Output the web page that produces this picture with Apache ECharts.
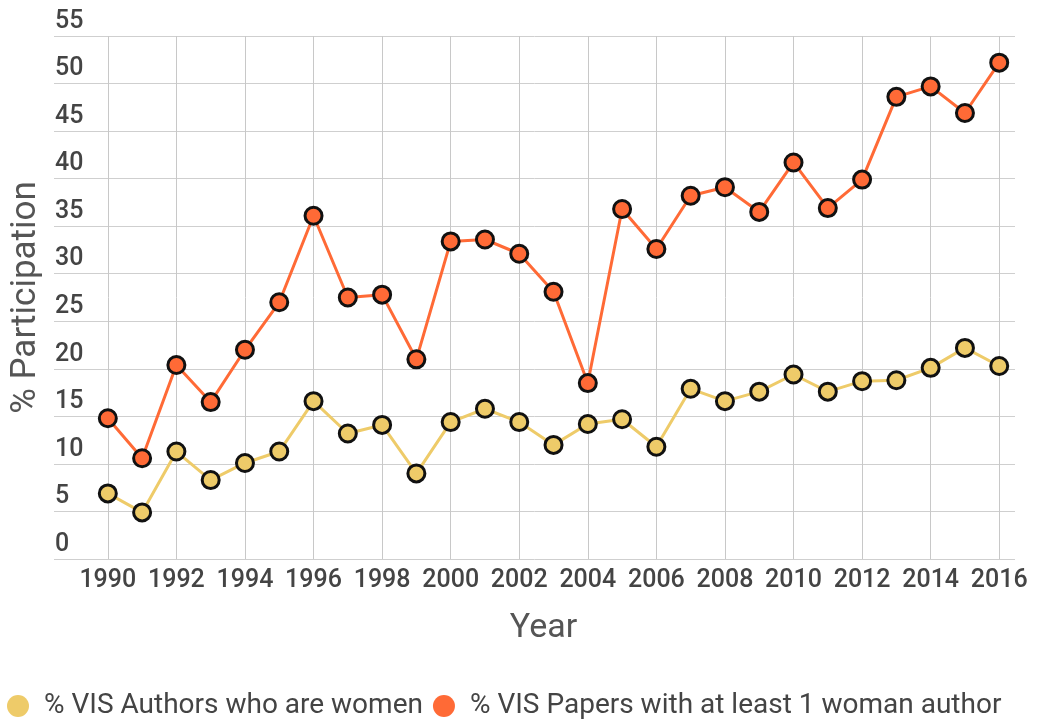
<!DOCTYPE html>
<html>
<head>
<meta charset="utf-8">
<script src="https://cdn.jsdelivr.net/npm/echarts@6/dist/echarts.min.js"></script>
<style>
    html, body { margin: 0; padding: 0; background: #fff; }
    #main { width: 1037px; height: 719px; }
</style>
</head>
<body>
<div id="main"></div>
<script>
// --------------------------------------------------------------------------------------------------------------------
var years = [1990, 1991, 1992, 1993, 1994, 1995, 1996, 1997, 1998, 1999, 2000, 2001, 2002, 2003,
    2004, 2005, 2006, 2007, 2008, 2009, 2010, 2011, 2012, 2013, 2014, 2015, 2016];
var authorsWomen = [6.9, 4.9, 11.3, 8.3, 10.1, 11.3, 16.6, 13.2, 14.1, 9.0, 14.4, 15.8, 14.4, 12.0,
    14.2, 14.7, 11.8, 17.9, 16.6, 17.6, 19.4, 17.6, 18.7, 18.8, 20.1, 22.2, 20.3];
var papersWoman = [14.8, 10.6, 20.4, 16.5, 22.0, 27.0, 36.1, 27.5, 27.8, 21.0, 33.4, 33.6, 32.1, 28.1,
    18.5, 36.8, 32.6, 38.2, 39.1, 36.5, 41.7, 36.9, 39.9, 48.6, 49.7, 46.9, 52.2];
var seriesNames = ['% VIS Authors who are women', '% VIS Papers with at least 1 woman author'];
var seriesColors = ['#EECB69', '#FF6A36'];
// --------------------------------------------------------------------------------------------------------------------
function pairs(values) {
    var result = [];
    for (var i = 0; i < years.length; i++) {
        result.push([years[i], values[i]]);
    }
    return result;
}

function makeSeries(name, color, values) {
    return {
        name: name,
        type: 'line',
        data: pairs(values),
        symbol: 'circle',
        symbolSize: 17,
        lineStyle: { color: color, width: 3 },
        itemStyle: { color: color, borderColor: '#111', borderWidth: 3 },
        emphasis: { disabled: true },
        z: 3
    };
}

var textColor = '#444';
var font = 'Roboto, "Noto Sans", sans-serif';

var option = {
    animation: false,
    grid: { left: 54, right: 22, top: 36, bottom: 160 },
    legend: {
        left: 2,
        top: 687,
        icon: 'circle',
        itemWidth: 38,
        itemHeight: 22,
        itemGap: 10,
        itemStyle: { borderWidth: 0 },
        textStyle: { fontFamily: font, fontSize: 28, color: textColor, padding: [0, 0, 0, 2] },
        data: seriesNames
    },
    xAxis: {
        type: 'value',
        min: 1988.43,
        max: 2016.46,
        splitNumber: 14,
        minInterval: 2,
        maxInterval: 2,
        name: 'Year',
        nameLocation: 'middle',
        nameGap: 52,
        nameTextStyle: { fontFamily: font, fontSize: 34, color: '#555', padding: [0, 0, 0, 18] },
        axisLine: { show: false },
        axisTick: { show: false },
        axisLabel: {
            margin: 9,
            fontFamily: font,
            fontSize: 25,
            fontWeight: 500,
            color: textColor,
            showMinLabel: false,
            showMaxLabel: false,
            formatter: function (v) { return v % 1 === 0 ? String(v) : ''; }
        },
        splitLine: { show: true, showMinLine: false, showMaxLine: false, lineStyle: { color: '#c8c8c8', width: 1 } }
    },
    yAxis: {
        type: 'value',
        min: 0,
        max: 55,
        interval: 5,
        name: '% Participation',
        nameLocation: 'middle',
        nameGap: 9,
        nameTextStyle: { fontFamily: font, fontSize: 35, color: '#555' },
        axisLine: { show: false },
        axisTick: { show: false },
        axisLabel: {
            inside: true,
            margin: 1,
            verticalAlign: 'bottom',
            padding: [0, 0, 2, 0],
            fontFamily: font,
            fontSize: 25,
            fontWeight: 500,
            color: textColor
        },
        splitLine: { show: true, lineStyle: { color: '#cfcfcf', width: 1 } }
    },
    series: [
        makeSeries(seriesNames[0], seriesColors[0], authorsWomen),
        makeSeries(seriesNames[1], seriesColors[1], papersWoman)
    ]
};

var chart = echarts.init(document.getElementById('main'));
chart.setOption(option);
</script>
</body>
</html>
